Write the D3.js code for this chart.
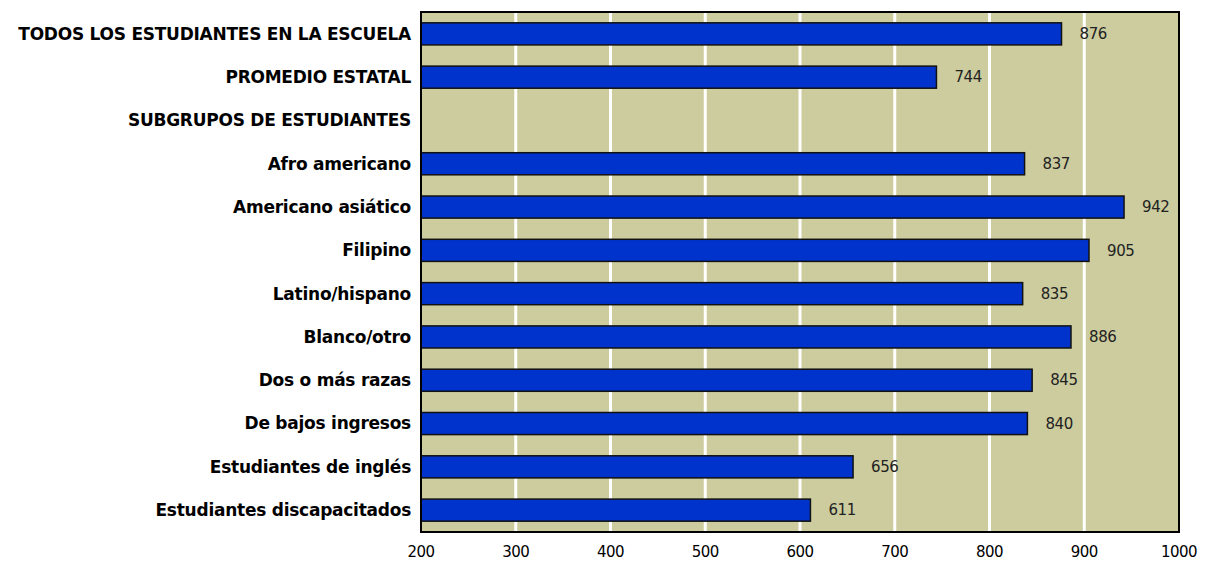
<!DOCTYPE html>
<html>
<head>
<meta charset="utf-8">
<script src="https://cdn.jsdelivr.net/npm/d3@7"></script>
<style>
  body { margin: 0; background: #fff; }
  text { font-family: "DejaVu Sans", sans-serif; }
</style>
</head>
<body>
<div id="chart"></div>
<script>
var categories = [
  'TODOS LOS ESTUDIANTES EN LA ESCUELA',
  'PROMEDIO ESTATAL',
  'SUBGRUPOS DE ESTUDIANTES',
  'Afro americano',
  'Americano asiático',
  'Filipino',
  'Latino/hispano',
  'Blanco/otro',
  'Dos o más razas',
  'De bajos ingresos',
  'Estudiantes de inglés',
  'Estudiantes discapacitados'
]
var values = [876, 744, null, 837, 942, 905, 835, 886, 845, 840, 656, 611]
var xTicks = [200, 300, 400, 500, 600, 700, 800, 900, 1000]

var W = 1205, H = 567
var plotL = 421, plotR = 1179, plotT = 12, plotB = 532

var svg = d3.select('#chart').append('svg')
  .attr('width', W)
  .attr('height', H)

var x = d3.scaleLinear().domain([200, 1000]).range([plotL, plotR])
var y = d3.scaleBand().domain(categories).range([plotT, plotB]).paddingInner(0.49).paddingOuter(0.25)

svg.append('rect')
  .attr('x', plotL).attr('y', plotT)
  .attr('width', plotR - plotL).attr('height', plotB - plotT)
  .attr('fill', '#cccc9e')

svg.selectAll('.grid')
  .data(xTicks.slice(1, -1))
  .enter().append('line')
  .attr('x1', d => x(d)).attr('x2', d => x(d))
  .attr('y1', plotT).attr('y2', plotB)
  .attr('stroke', '#fff')
  .attr('stroke-width', 3)

var rows = categories.map((c, i) => ({name: c, value: values[i]}))
var data = rows.filter(d => d.value != null)

svg.selectAll('.bar')
  .data(data)
  .enter().append('rect')
  .attr('x', x(200))
  .attr('y', d => y(d.name))
  .attr('width', d => x(d.value) - x(200))
  .attr('height', y.bandwidth())
  .attr('fill', '#0033cc')
  .attr('stroke', '#111')
  .attr('stroke-width', 1.5)

svg.selectAll('.val')
  .data(data)
  .enter().append('text')
  .attr('x', d => x(d.value) + 18)
  .attr('y', d => y(d.name) + y.bandwidth() / 2)
  .attr('dy', '0.35em')
  .attr('font-size', 15)
  .attr('letter-spacing', -0.4)
  .attr('fill', '#222')
  .text(d => d.value)

svg.selectAll('.cat')
  .data(rows)
  .enter().append('text')
  .attr('x', plotL - 10)
  .attr('y', d => y(d.name) + y.bandwidth() / 2)
  .attr('dy', '0.35em')
  .attr('text-anchor', 'end')
  .attr('font-size', 17)
  .attr('font-weight', 'bold')
  .attr('letter-spacing', -0.25)
  .attr('fill', '#000')
  .text(d => d.name)

svg.selectAll('.tick')
  .data(xTicks)
  .enter().append('text')
  .attr('x', d => x(d))
  .attr('y', 557)
  .attr('text-anchor', 'middle')
  .attr('font-size', 15)
  .attr('letter-spacing', -0.5)
  .attr('fill', '#000')
  .text(d => d)

// frame
svg.append('rect')
  .attr('x', plotL).attr('y', plotT)
  .attr('width', plotR - plotL).attr('height', plotB - plotT)
  .attr('fill', 'none')
  .attr('stroke', '#000')
  .attr('stroke-width', 2)
</script>
</body>
</html>
